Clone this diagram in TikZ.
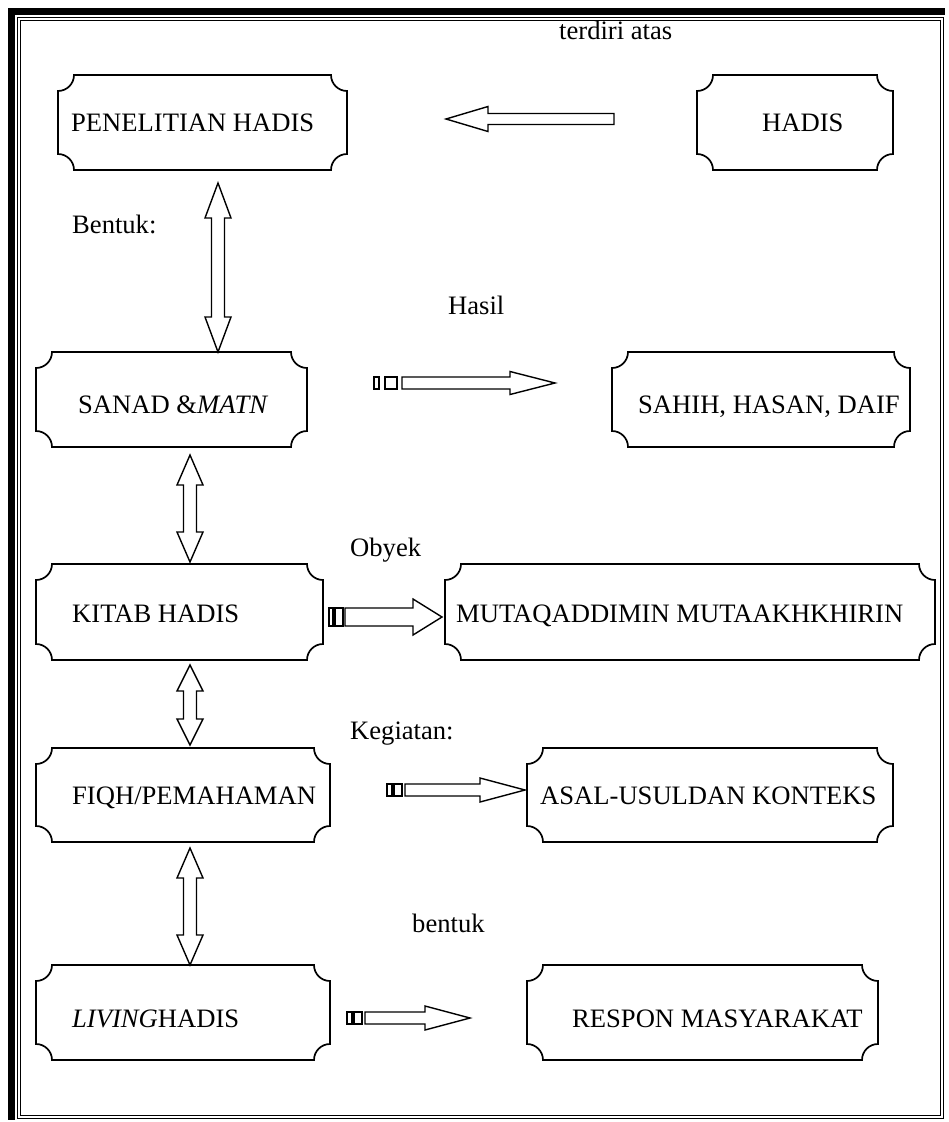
\documentclass[tikz,border=0pt]{standalone}
\usepackage{fontspec}
\setmainfont{Liberation Serif}
\begin{document}
\begin{tikzpicture}[x=1pt,y=-1pt,
  boxline/.style={line width=1.7pt, line join=miter},
  arr/.style={draw, line width=1.4pt, fill=white, line join=miter},
  lbl/.style={inner sep=0pt, anchor=base west, font=\fontsize{26.6}{30}\selectfont}]
\useasboundingbox (0,0) rectangle (948,1122);
% page border
\fill (8,8) rectangle (15,1120);
\fill (8,8) rectangle (945,15);
\draw[line width=1pt] (17.5,17.5) rectangle (943.5,1118.5);
\draw[line width=1pt] (20.5,20.5) rectangle (940.5,1115.5);
\def\rr{16}
\newcommand\plaque[5]{%
  \node[inner sep=0pt, minimum width={#4-#2}, minimum height={#5-#3}] (#1) at ({(#2+#4)/2},{(#3+#5)/2}) {};
  \draw[boxline] (#2,#3+\rr) .. controls (#2+0.552*\rr,#3+\rr) and (#2+\rr,#3+0.552*\rr) .. (#2+\rr,#3)
    -- (#4-\rr,#3) .. controls (#4-\rr,#3+0.552*\rr) and (#4-0.552*\rr,#3+\rr) .. (#4,#3+\rr)
    -- (#4,#5-\rr) .. controls (#4-0.552*\rr,#5-\rr) and (#4-\rr,#5-0.552*\rr) .. (#4-\rr,#5)
    -- (#2+\rr,#5) .. controls (#2+\rr,#5-0.552*\rr) and (#2+0.552*\rr,#5-\rr) .. (#2,#5-\rr) -- cycle;}
% horizontal block arrow: tail x, tip x, y, shaft half, head half, head length
\newcommand\harrow[6]{%
  \pgfmathsetmacro\hs{(#2>#1)?1:-1}%
  \pgfmathsetmacro\hb{#2-\hs*#6}%
  \draw[arr] (#1,#3-#4) -- (\hb,#3-#4) -- (\hb,#3-#5) -- (#2,#3) -- (\hb,#3+#5) -- (\hb,#3+#4) -- (#1,#3+#4) -- cycle;}
% vertical double block arrow: x, top, bottom, shaft half, head half, head length
\newcommand\vdarrow[6]{%
  \draw[arr] (#1,#2) -- (#1+#5,#2+#6) -- (#1+#4,#2+#6) -- (#1+#4,#3-#6) -- (#1+#5,#3-#6) -- (#1,#3)
    -- (#1-#5,#3-#6) -- (#1-#4,#3-#6) -- (#1-#4,#2+#6) -- (#1-#5,#2+#6) -- cycle;}
\newcommand\tails[5]{% two small rectangles, y centre
  \draw[line width=1.2pt] (#1,#5-6) rectangle (#2,#5+6);
  \draw[line width=1.2pt] (#3,#5-6) rectangle (#4,#5+6);}

% boxes
\plaque{pen}{58}{75}{347}{170}
\plaque{had}{697}{75}{893}{170}
\plaque{san}{36}{352}{307}{447}
\plaque{sah}{612}{352}{910}{447}
\plaque{kit}{36}{564}{323}{660}
\plaque{mut}{445}{564}{935}{660}
\plaque{fiq}{36}{748}{330}{842}
\plaque{asa}{527}{748}{893}{842}
\plaque{liv}{36}{965}{330}{1060}
\plaque{res}{527}{965}{878}{1060}

% box texts
\node[lbl] (penT) at (71,131) {PENELITIAN HADIS};
\node[lbl] (hadT) at (762,131) {HADIS};
\node[lbl] (sanT) at (78,413) {SANAD \&\textit{MATN}};
\node[lbl] (sahT) at (638,413) {SAHIH, HASAN, DAIF};
\node[lbl] (kitT) at (72,622) {KITAB HADIS};
\node[lbl] (mutT) at (456,622) {MUTAQADDIMIN MUTAAKHKHIRIN};
\node[lbl] (fiqT) at (72,804) {FIQH/PEMAHAMAN};
\node[lbl] (asaT) at (540,804) {ASAL-USULDAN KONTEKS};
\node[lbl] (livT) at (72,1027) {\textit{LIVING}HADIS};
\node[lbl] (resT) at (572,1027) {RESPON MASYARAKAT};

% labels
\node[lbl] (l1) at (559,39) {terdiri atas};
\node[lbl] (l2) at (72,233) {Bentuk:};
\node[lbl] (l3) at (448,314) {Hasil};
\node[lbl] (l4) at (350,556) {Obyek};
\node[lbl] (l5) at (350,739) {Kegiatan:};
\node[lbl] (l6) at (412,932) {bentuk};

% arrows
\harrow{614}{446}{119}{5.5}{12.5}{42}
\vdarrow{218}{183}{352}{6.5}{13}{35}
\tails{374}{379}{385}{397}{383}
\harrow{402}{555}{383}{6}{11.5}{45}
\vdarrow{190}{455}{562}{6.5}{13}{30}
\draw[line width=1.2pt] (329,608) rectangle (333,626);
\draw[line width=1.2pt] (335,608) rectangle (343,626);
\harrow{345}{442}{617}{9}{18}{29}
\vdarrow{190}{665}{745}{6.5}{13}{26}
\tails{387}{392}{394}{402}{790}
\harrow{405}{525}{790}{6}{12}{45}
\vdarrow{190}{848}{965}{6.5}{13}{30}
\tails{347}{352}{354}{362}{1018}
\harrow{365}{470}{1018}{6}{12}{45}
\end{tikzpicture}
\end{document}
